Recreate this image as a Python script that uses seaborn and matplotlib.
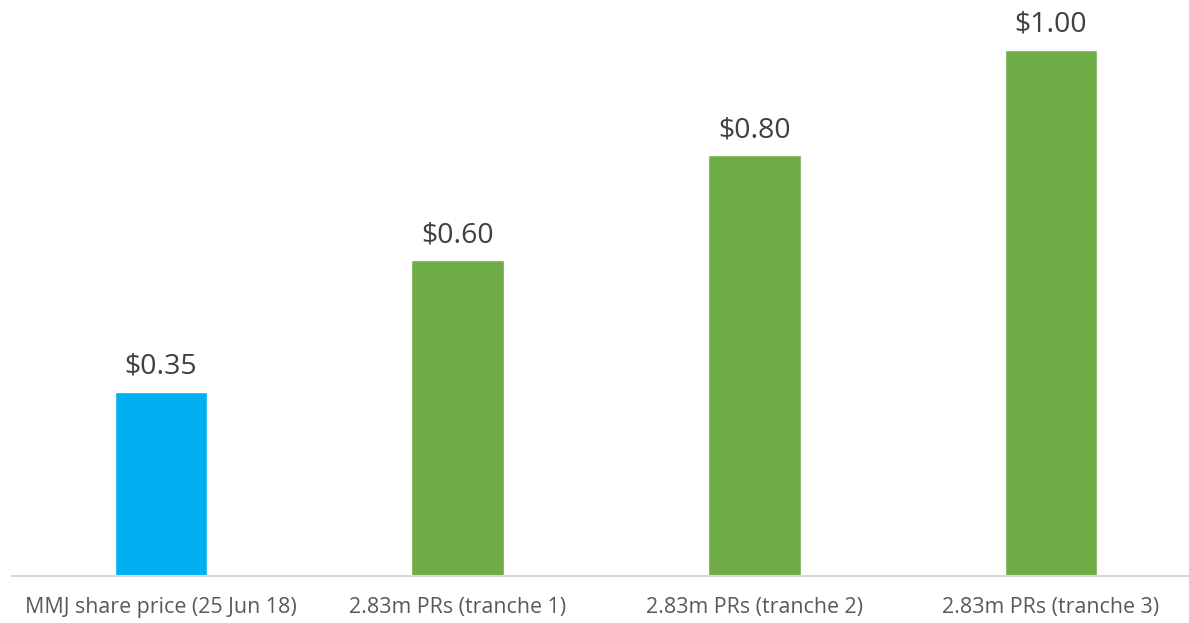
import matplotlib
matplotlib.use("Agg")
import matplotlib.pyplot as plt
import seaborn as sns
import pandas as pd

categories = ["MMJ share price (25 Jun 18)", "2.83m PRs (tranche 1)",
              "2.83m PRs (tranche 2)", "2.83m PRs (tranche 3)"]
values = [0.35, 0.60, 0.80, 1.00]
labels = ["$0.35", "$0.60", "$0.80", "$1.00"]
colors = ["#00B0F0", "#70AD47", "#70AD47", "#70AD47"]

sns.set_style("white")
plt.rcParams['font.family'] = ['Open Sans', 'DejaVu Sans']

W, H = 1189, 623
fig = plt.figure(figsize=(W / 100, H / 100), dpi=100)
ax = fig.add_axes([12 / W, 47 / H, 1 - 12 / W, 1 - 47 / H])

df = pd.DataFrame({"cat": categories, "val": values})
sns.barplot(data=df, x="cat", y="val", hue="cat", palette=colors, legend=False,
            width=0.313, ax=ax, saturation=1)

ax.set_xlim(-0.502, 3.465)
ax.set_ylim(0, 576 / 526)
for i, (v, lab) in enumerate(zip(values, labels)):
    ax.annotate(lab, (i, v), xytext=(0, 8), textcoords="offset points",
                ha="center", va="bottom", fontsize=20.5, color="#404040")

for s in ["top", "right", "left"]:
    ax.spines[s].set_visible(False)
ax.spines["bottom"].set_color("#D9D9D9")
ax.spines["bottom"].set_linewidth(1.5)
ax.set_yticks([])
ax.set_xlabel("")
ax.set_ylabel("")
ax.tick_params(axis="x", length=0, pad=15, labelsize=15.4, labelcolor="#595959")

fig.savefig("out.png", dpi=100)
